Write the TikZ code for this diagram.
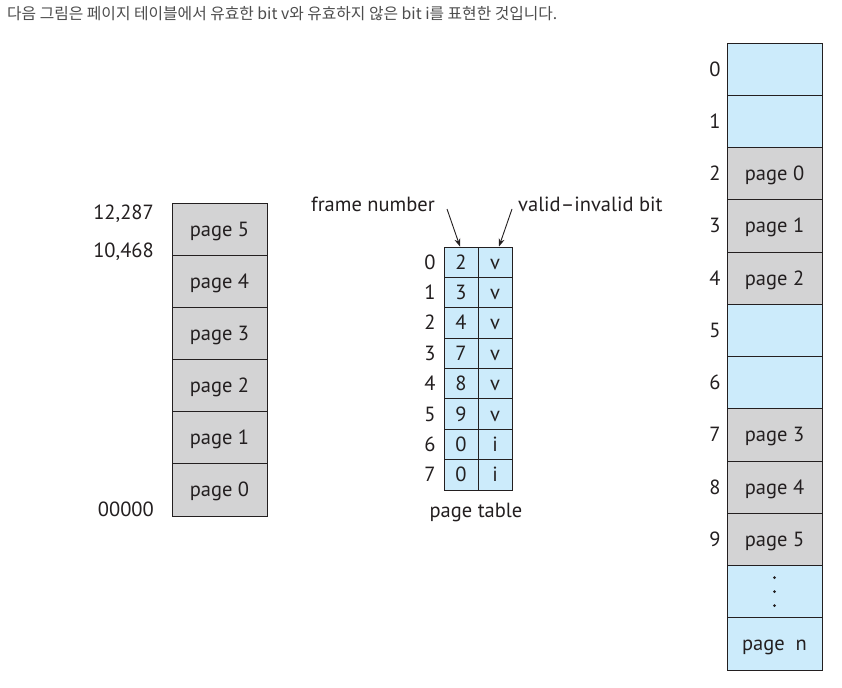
\documentclass[tikz,border=0pt]{standalone}
\usepackage{fontspec}
\setmainfont{PT Sans}
\newfontfamily\kofont{Noto Sans CJK KR}
\usetikzlibrary{arrows.meta}
\definecolor{cellblue}{HTML}{CCEBFB}
\definecolor{cellgray}{HTML}{D3D3D4}
\definecolor{ink}{HTML}{231F20}
\definecolor{hdr}{HTML}{4D4D4D}
\tikzset{
  txt/.style={inner sep=0pt, text=ink, font=\fontsize{20.5}{23}\selectfont, text height=16pt, text depth=2pt},
  cell/.style={txt, draw=ink, line width=0.9pt, minimum width=95pt, minimum height=52.2pt},
  ptcell/.style={txt, draw=ink, fill=cellblue, line width=0.9pt, minimum width=34pt, minimum height=30.4pt},
  lbl/.style={txt},
  arr/.style={-{Stealth[length=8pt,width=6pt]}, line width=0.9pt, draw=ink}
}
\begin{document}
\begin{tikzpicture}[x=1pt,y=-1pt]
\useasboundingbox (0,0) rectangle (842,687);
\fill[white] (0,0) rectangle (842,687);
\node[anchor=west, inner sep=0pt, text=hdr, font=\kofont\fontsize{15.8}{18}\selectfont] (title) at (7,14) {다음 그림은 페이지 테이블에서 유효한 bit v와 유효하지 않은 bit i를 표현한 것입니다.};
% logical memory
\foreach \i in {0,...,5}{
  \node[cell, fill=cellgray] (L\i) at (219.5, {516-52.17*(\i+0.5)}) {page \i};
}
\node[lbl, anchor=east] (a12287) at (154,212) {12,287};
\node[lbl, anchor=east] (a10468) at (154,250) {10,468};
\node[lbl, anchor=east] (a00000) at (154,509) {00000};
% page table
\foreach \i/\f/\v in {0/2/v,1/3/v,2/4/v,3/7/v,4/8/v,5/9/v,6/0/i,7/0/i}{
  \node[ptcell] (PF\i) at (461, {247+30.375*(\i+0.5)}) {\f};
  \node[ptcell] (PV\i) at (495, {247+30.375*(\i+0.5)}) {\v};
  \node[lbl] (PI\i) at (430, {247+30.375*(\i+0.5)}) {\i};
}
\node[lbl] (ptl) at (476,510) {page table};
\node[lbl, anchor=east] (fn) at (435,204) {frame number};
\node[lbl, anchor=west] (vib) at (518,204) {valid–invalid bit};
\coordinate (fa) at (447,209);
\coordinate (va) at (512,209);
\draw[arr] (fa) -- ([xshift=-1pt]PF0.north);
\draw[arr] (va) -- ([xshift=4pt]PV0.north);
% physical memory
\foreach \i/\t/\c in {0//cellblue,1//cellblue,2/page 0/cellgray,3/page 1/cellgray,4/page 2/cellgray,5//cellblue,6//cellblue,7/page 3/cellgray,8/page 4/cellgray,9/page 5/cellgray}{
  \node[cell, fill=\c] (R\i) at (774.5, {43+52.25*(\i+0.5)}) {\t};
  \node[lbl] (RI\i) at (715, {43+52.25*(\i+0.5)}) {\i};
}
\node[cell, fill=cellblue] (R10) at (774.5, {43+52.25*10.5}) {};
\foreach \k in {-1,0,1}{
  \fill[ink] ([yshift=\k*14pt]R10.center) circle (1.6pt);
}
\node[cell, fill=cellblue] (R11) at (774.5, {43+52.25*11.5}) {page\ \ n};
\end{tikzpicture}
\end{document}
